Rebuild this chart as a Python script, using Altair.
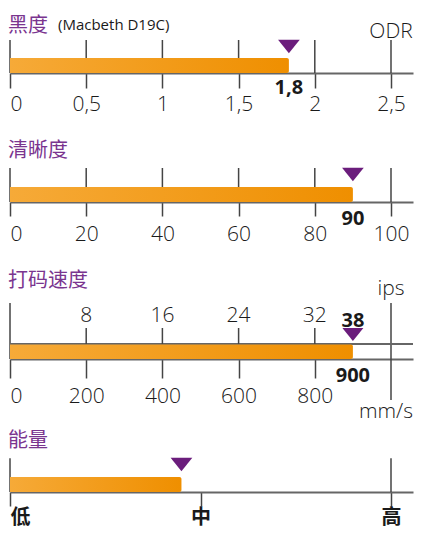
import altair as alt
import pandas as pd

# ---------------- data ----------------
p1_title = ["黑度"]
p1_subtitle = ["(Macbeth D19C)"]
p1_unit = ["ODR"]
p1_ticks = [0, 0.5, 1, 1.5, 2, 2.5]
p1_tick_labels = ["0", "0,5", "1", "1,5", "2", "2,5"]
p1_value = [1.83]
p1_value_label = ["1,8"]

p2_title = ["清晰度"]
p2_ticks = [0, 20, 40, 60, 80, 100]
p2_tick_labels = ["0", "20", "40", "60", "80", "100"]
p2_value = [90]
p2_value_label = ["90"]

p3_title = ["打码速度"]
p3_mm_ticks = [0, 200, 400, 600, 800]
p3_mm_labels = ["0", "200", "400", "600", "800"]
p3_mm_max = 1000
p3_ips_ticks = [8, 16, 24, 32]
p3_ips_labels = ["8", "16", "24", "32"]
p3_ips_max = 40
p3_value = [900]
p3_value_label_mm = ["900"]
p3_value_label_ips = ["38"]
p3_unit_top = ["ips"]
p3_unit_bottom = ["mm/s"]

p4_title = ["能量"]
p4_ticks = [0, 1, 2]
p4_tick_labels = ["低", "中", "高"]
p4_grid = [0, 2]
p4_value = [0.9]

# ---------------- style ----------------
W = 403          # plot width (from first tick to right edge)
SPAN = 381       # pixels from the first to the last tick
PURPLE_T = "#7a358f"
PURPLE_M = "#6b1d7c"
LINE = "#444444"
DOMAIN = "#666666"
TEXT = "#1a1a1a"
NUM_FONT = "Open Sans"
CJK = "Noto Sans CJK SC"
TRI = "M-1,-0.613L1,-0.613L0,0.613Z"
GRAD = alt.Gradient(
    gradient="linear",
    stops=[alt.GradientStop(color="#f6aa38", offset=0),
           alt.GradientStop(color="#ef8f00", offset=1)],
    x1=0, x2=1, y1=0, y2=0,
)


def xscale(axis_max):
    return alt.Scale(domain=[0, axis_max * W / SPAN], nice=False, zero=False)


def label_expr(vals, labels):
    expr = "''"
    for v, l in reversed(list(zip(vals, labels))):
        expr = f"datum.value == {v} ? '{l}' : ({expr})"
    return expr


def bottom_axis(vals, labels, tick_size, pad, font=NUM_FONT, weight=300, size=21):
    return alt.Axis(
        values=vals, labelExpr=label_expr(vals, labels), title=None, grid=False,
        domainColor=DOMAIN, domainWidth=1.8, tickColor=LINE, tickWidth=1.5,
        tickSize=tick_size, labelPadding=pad, labelFont=font, labelFontSize=size,
        labelFontWeight=weight, labelColor=TEXT, labelFlush=False, labelOverlap=False,
        labelAlign={"condition": {"test": "datum.value == 0", "value": "left"}, "value": "center"},
    )


def df(**kw):
    return pd.DataFrame(kw)


def text_layer(values, x, y, size, weight="normal", font=NUM_FONT, color=TEXT, align="left"):
    return alt.Chart(df(t=values)).mark_text(
        font=font, fontSize=size, fontWeight=weight, color=color, align=align, baseline="alphabetic"
    ).encode(x=x, y=alt.value(y), text="t:N")


def gauge(ticks, labels, grid, value, axis_max, axis, H, grid_top, bar_h, tri_y):
    sc = xscale(axis_max)
    X = lambda f: alt.X(f, type="quantitative", scale=sc, axis=axis)
    grid_l = alt.Chart(df(v=grid)).mark_rule(color=LINE, strokeWidth=1.5).encode(
        x=X("v"), y=alt.value(grid_top), y2=alt.value(H))
    bar = alt.Chart(df(s=[0] * len(value), v=value)).mark_bar(
        fill=GRAD, cornerRadiusTopRight=2, cornerRadiusBottomRight=2).encode(
        x=X("s"), x2="v:Q", y=alt.value(H - bar_h), y2=alt.value(H))
    tri = alt.Chart(df(v=value)).mark_point(
        shape=TRI, size=471, filled=True, color=PURPLE_M, opacity=1).encode(
        x=X("v"), y=alt.value(tri_y))
    return sc, X, [grid_l, bar, tri]


# ---------------- panel 1 ----------------
H1 = 65
ax1 = bottom_axis(p1_ticks, p1_tick_labels, 15, 5)
sc1, X1, l1 = gauge(p1_ticks, p1_tick_labels, p1_ticks, p1_value, p1_ticks[-1], ax1, H1, 32, 15, 38.5)
p1 = alt.layer(
    *l1,
    alt.Chart(df(v=p1_value, t=p1_value_label)).mark_text(
        font=NUM_FONT, fontSize=20, fontWeight="bold", color=TEXT, baseline="alphabetic").encode(
        x=X1("v"), y=alt.value(86), text="t:N"),
    text_layer(p1_title, alt.value(-2), 23.8, 20, font=CJK, color=PURPLE_T),
    text_layer(p1_subtitle, alt.value(48), 21.8, 15, weight="normal"),
    alt.Chart(df(v=[p1_ticks[-1]], t=p1_unit)).mark_text(
        font=NUM_FONT, fontSize=21, fontWeight=300, color=TEXT, baseline="alphabetic").encode(
        x=X1("v"), y=alt.value(30.3), text="t:N"),
).properties(width=W, height=H1)

# ---------------- panel 2 ----------------
H2 = 72
ax2 = bottom_axis(p2_ticks, p2_tick_labels, 14, 7)
sc2, X2, l2 = gauge(p2_ticks, p2_tick_labels, p2_ticks, p2_value, p2_ticks[-1], ax2, H2, 38, 15, 44.5)
p2 = alt.layer(
    *l2,
    alt.Chart(df(v=p2_value, t=p2_value_label)).mark_text(
        font=NUM_FONT, fontSize=20, fontWeight="bold", color=TEXT, baseline="alphabetic").encode(
        x=X2("v"), y=alt.value(95), text="t:N"),
    text_layer(p2_title, alt.value(-2), 26.5, 20, font=CJK, color=PURPLE_T),
).properties(width=W, height=H2)

# ---------------- panel 3 ----------------
H3 = 100
ax3 = bottom_axis(p3_mm_ticks, p3_mm_labels, 19, 7)
sc3 = xscale(p3_mm_max)
X3 = lambda f: alt.X(f, type="quantitative", scale=sc3, axis=ax3)
sc3i = xscale(p3_ips_max)
X3i = lambda f: alt.X(f, type="quantitative", scale=sc3i, axis=None)

mm_layer = alt.layer(
    alt.Chart(df(v=[0])).mark_rule(color=LINE, strokeWidth=1.5).encode(
        x=X3("v"), y=alt.value(44), y2=alt.value(H3)),
    alt.Chart(df(v=[p3_mm_max])).mark_rule(color=LINE, strokeWidth=1.5).encode(
        x=X3("v"), y=alt.value(44), y2=alt.value(141)),
    alt.Chart(df(v=[0])).mark_rule(color=DOMAIN, strokeWidth=1.8).encode(
        x=alt.value(0), x2=alt.value(W), y=alt.value(85)),
    alt.Chart(df(s=[0], v=p3_value)).mark_bar(
        fill=GRAD, cornerRadiusTopRight=2, cornerRadiusBottomRight=2).encode(
        x=X3("s"), x2="v:Q", y=alt.value(85.5), y2=alt.value(H3)),
    alt.Chart(df(v=p3_value)).mark_point(
        shape=TRI, size=440, filled=True, color=PURPLE_M, opacity=1).encode(
        x=X3("v"), y=alt.value(75.5)),
    alt.Chart(df(v=p3_value, t=p3_value_label_ips)).mark_text(
        font=NUM_FONT, fontSize=20, fontWeight="bold", color=TEXT, baseline="alphabetic").encode(
        x=X3("v"), y=alt.value(67.7), text="t:N"),
    alt.Chart(df(v=p3_value, t=p3_value_label_mm)).mark_text(
        font=NUM_FONT, fontSize=20, fontWeight="bold", color=TEXT, baseline="alphabetic").encode(
        x=X3("v"), y=alt.value(122.7), text="t:N"),
    alt.Chart(df(v=[p3_mm_max], t=p3_unit_top)).mark_text(
        font=NUM_FONT, fontSize=21, fontWeight=300, color=TEXT, baseline="alphabetic").encode(
        x=X3("v"), y=alt.value(36), text="t:N"),
    alt.Chart(df(t=p3_unit_bottom)).mark_text(
        font=NUM_FONT, fontSize=21, fontWeight=300, color=TEXT, baseline="alphabetic",
        align="right").encode(
        x=alt.value(W), y=alt.value(158.7), text="t:N"),
    text_layer(p3_title, alt.value(-2), 28, 20, font=CJK, color=PURPLE_T),
)
ips_layer = alt.layer(
    alt.Chart(df(v=p3_ips_ticks)).mark_rule(color=LINE, strokeWidth=1.5).encode(
        x=X3i("v"), y=alt.value(69), y2=alt.value(85)),
    alt.Chart(df(v=p3_ips_ticks, t=p3_ips_labels)).mark_text(
        font=NUM_FONT, fontSize=21, fontWeight=300, color=TEXT, baseline="alphabetic").encode(
        x=X3i("v"), y=alt.value(63), text="t:N"),
)
p3 = alt.layer(mm_layer, ips_layer).resolve_scale(x="independent").properties(width=W, height=H3)

# ---------------- panel 4 ----------------
H4 = 76
ax4 = bottom_axis(p4_ticks, p4_tick_labels, 14, 1, font=CJK, weight="bold", size=20)
sc4, X4, l4 = gauge(p4_ticks, p4_tick_labels, p4_grid, p4_value, p4_ticks[-1], ax4, H4, 42.3, 15, 48.5)
p4 = alt.layer(
    *l4,
    text_layer(p4_title, alt.value(-2), 30.5, 20, font=CJK, color=PURPLE_T),
).properties(width=W, height=H4)

chart = alt.vconcat(p1, p2, p3, p4, spacing=57, bounds="flush").properties(
    padding={"left": 0, "right": 0, "top": 0, "bottom": 2}
).configure_view(stroke=None)

chart.save("out.html", embed_options={"renderer": "svg", "actions": False})
